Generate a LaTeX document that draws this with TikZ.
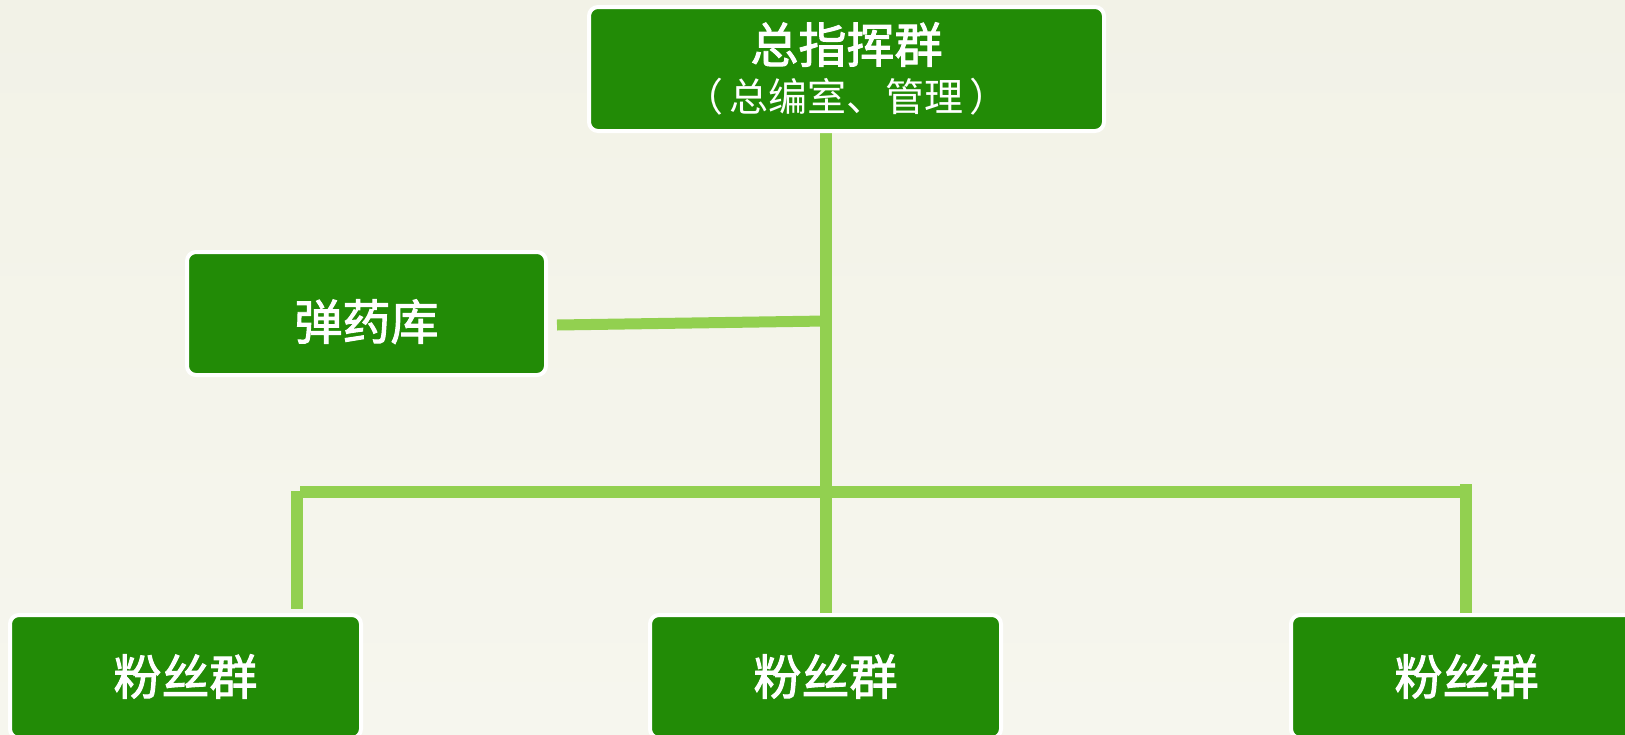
\documentclass[tikz,border=0pt]{standalone}
\usepackage{fontspec}
\newfontfamily\cjk{Noto Sans CJK SC}
\newfontfamily\cjkb{Noto Sans CJK SC}[FakeBold=2]
\usetikzlibrary{calc}
\definecolor{bgtop}{HTML}{F2F2E7}
\definecolor{bgbot}{HTML}{F6F6EE}
\definecolor{boxgreen}{HTML}{228B06}
\definecolor{linkgreen}{HTML}{92D050}
\pgfdeclarelayer{bg}
\pgfdeclarelayer{links}
\pgfsetlayers{bg,links,main}
\begin{document}
\begin{tikzpicture}[x=1pt,y=-1pt,
  box/.style={draw=white, line width=4pt, fill=boxgreen, rounded corners=9pt,
    text=white, inner sep=0pt, align=center},
  bigtext/.style={font=\cjkb\fontsize{48}{52}\selectfont},
  link/.style={draw=linkgreen, line width=12pt}]
\useasboundingbox (0,0) rectangle (1625,734);
\clip (0,0) rectangle (1625,734);
\begin{pgfonlayer}{bg}
  \shade[top color=bgtop, bottom color=bgbot] (0,0) rectangle (1625,734);
\end{pgfonlayer}

\node[box, minimum width=515pt, minimum height=124pt,
  font=\cjk\fontsize{39}{49}\selectfont] (top) at (846.5,69)
  {{\cjkb\fontsize{48}{49}\selectfont 总指挥群}\\（\kern6pt 总编室、管理\kern6pt ）};
\node[box, bigtext, minimum width=359pt, minimum height=123pt,
  text height=52.5pt, text depth=0pt] (ammo) at (366.5,313.5) {弹药库};
\node[box, bigtext, minimum width=351pt, minimum height=123pt,
  text height=36.5pt, text depth=0pt] (fan1) at (185.5,676.5) {粉丝群};
\node[box, bigtext, minimum width=351pt, minimum height=123pt,
  text height=36.5pt, text depth=0pt] (fan2) at (825.5,676.5) {粉丝群};
\node[box, bigtext, minimum width=351pt, minimum height=123pt,
  text height=36.5pt, text depth=0pt] (fan3) at (1466.5,676.5) {粉丝群};

\begin{pgfonlayer}{links}
  \coordinate (ammoJ) at (826,321);
  \coordinate (busL) at (300,492);
  \coordinate (busR) at (1472,492);
  \coordinate (dropL) at (297,491);
  \coordinate (dropR) at (1466,484);
  \draw[link] (top.south -| fan2.north) -- (fan2.north);
  \draw[link, line width=11pt] ($(ammo.east)+(9,11.5)$) -- (ammoJ);
  \draw[link] (busL) -- (busR);
  \draw[link] (dropL) -- ($(dropL |- fan1.north)+(0,-4)$);
  \draw[link] (dropR) -- ($(dropR |- fan3.north)+(0,3)$);
\end{pgfonlayer}
\end{tikzpicture}
\end{document}
